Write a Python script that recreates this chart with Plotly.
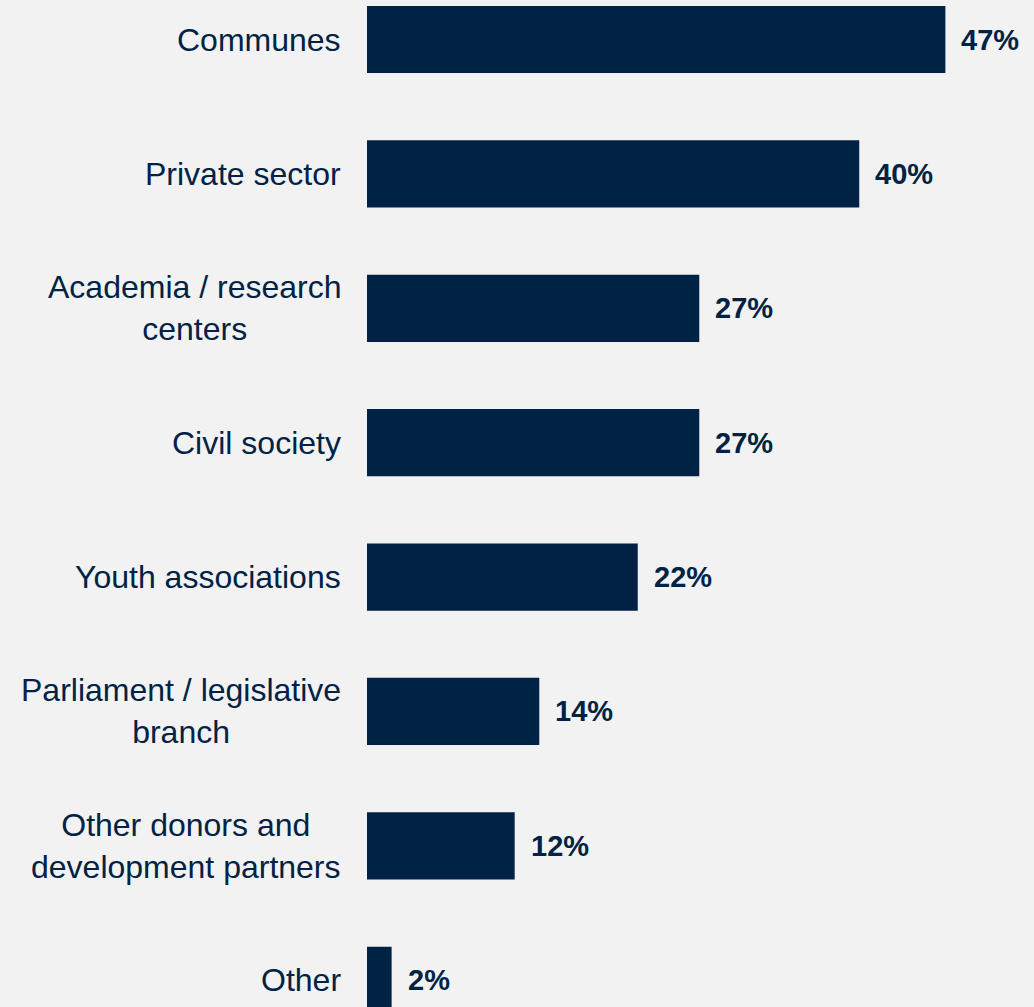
import plotly.graph_objects as go

categories = ["Communes", "Private sector", "Academia / research<br>centers", "Civil society",
              "Youth associations", "Parliament / legislative<br>branch",
              "Other donors and<br>development partners", "Other"]
values = [47, 40, 27, 27, 22, 14, 12, 2]
value_labels = ["47%", "40%", "27%", "27%", "22%", "14%", "12%", "2%"]

navy = "#002244"
bg = "#f2f2f2"
ypos = list(range(len(categories)))

fig = go.Figure(go.Bar(
    x=values, y=ypos, orientation="h", width=0.5,
    marker=dict(color=navy, line=dict(width=0)),
    hoverinfo="skip",
))

annotations = []
for yi, cat, v, lab in zip(ypos, categories, values, value_labels):
    annotations.append(dict(x=0, y=yi, xref="x", yref="y", text=cat, showarrow=False,
                            xanchor="right", yanchor="middle", align="center", xshift=-24,
                            font=dict(family="Liberation Sans, Arial", size=32, color=navy)))
    annotations.append(dict(x=v, y=yi, xref="x", yref="y", text="<b>" + lab + "</b>", showarrow=False,
                            xanchor="left", yanchor="middle", xshift=14,
                            font=dict(family="Liberation Sans, Arial", size=29, color=navy)))

fig.update_layout(
    width=1034, height=1007,
    margin=dict(l=367, r=0, t=0, b=0),
    paper_bgcolor=bg, plot_bgcolor=bg,
    showlegend=False,
    xaxis=dict(range=[0, 54.2], visible=False, fixedrange=True),
    yaxis=dict(range=[7.199, -0.294], visible=False, fixedrange=True),
    annotations=annotations,
)

fig.write_html("out.html", config={"displayModeBar": False},
               post_script="document.body.style.margin='0';document.body.style.background='#f2f2f2';document.body.style.overflow='hidden';")
